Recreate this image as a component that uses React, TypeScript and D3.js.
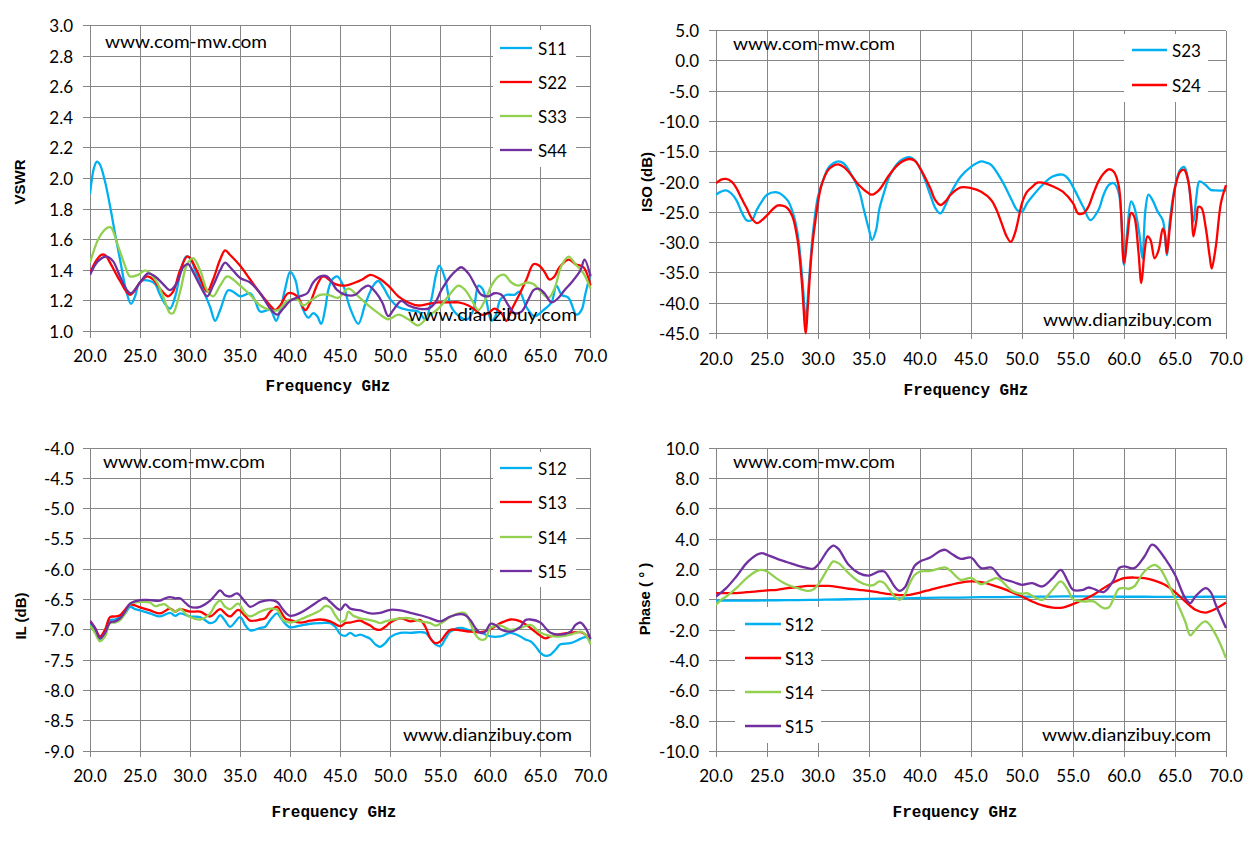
import * as d3 from "d3";

type Pt = [number, number];

// ---- axis ticks ----
const FREQ_TICKS = [20, 25, 30, 35, 40, 45, 50, 55, 60, 65, 70];
const VSWR_TICKS = [1.0, 1.2, 1.4, 1.6, 1.8, 2.0, 2.2, 2.4, 2.6, 2.8, 3.0];
const ISO_TICKS = [5, 0, -5, -10, -15, -20, -25, -30, -35, -40, -45];
const IL_TICKS = [-4.0, -4.5, -5.0, -5.5, -6.0, -6.5, -7.0, -7.5, -8.0, -8.5, -9.0];
const PHASE_TICKS = [10, 8, 6, 4, 2, 0, -2, -4, -6, -8, -10];

const CYAN = "#00B0F0";
const RED = "#FF0000";
const GREEN = "#92D050";
const PURPLE = "#7030A0";

// ---- VSWR (GHz, VSWR) ----
const S11: Pt[] = [
  [20, 1.9], [20.4, 2.07], [20.7, 2.11], [21, 2.09], [21.5, 1.98], [22, 1.82], [22.5, 1.64], [23, 1.47],
  [23.6, 1.27], [24.1, 1.18], [24.5, 1.23], [24.8, 1.3], [25.1, 1.33], [26, 1.33], [26.5, 1.31], [27, 1.24],
  [27.5, 1.18], [28, 1.15], [28.6, 1.25], [29, 1.38], [29.6, 1.49], [30, 1.48], [30.5, 1.4], [31, 1.32],
  [31.5, 1.24], [32, 1.16], [32.5, 1.07], [33, 1.14], [33.8, 1.27], [34.3, 1.26], [35, 1.23], [35.5, 1.24],
  [36, 1.25], [36.5, 1.2], [37, 1.13], [38, 1.14], [38.6, 1.07], [39, 1.14], [39.5, 1.28], [40, 1.39],
  [40.5, 1.34], [41, 1.19], [41.8, 1.09], [42.3, 1.12], [42.7, 1.1], [43.1, 1.05], [43.5, 1.15], [43.8, 1.27],
  [44.2, 1.34], [44.7, 1.36], [45.3, 1.3], [46, 1.15], [46.8, 1.05], [47.5, 1.18], [48.3, 1.3], [48.8, 1.33],
  [49.3, 1.29], [50, 1.21], [50.8, 1.16], [51.8, 1.14], [52.8, 1.13], [53.5, 1.08], [54.1, 1.21], [54.6, 1.38],
  [54.9, 1.43], [55.5, 1.34], [56.1, 1.16], [57.1, 1.09], [57.7, 1.08], [58.3, 1.14], [58.8, 1.3], [59.2, 1.28],
  [59.6, 1.2], [60.1, 1.07], [60.5, 1.1], [61, 1.21], [61.6, 1.24], [62.4, 1.24], [62.9, 1.26], [63.6, 1.16],
  [64.4, 1.1], [65.3, 1.14], [66.1, 1.19], [66.6, 1.3], [67.1, 1.24], [67.8, 1.22], [68.6, 1.11], [69.1, 1.14],
  [69.5, 1.25], [70, 1.38],
];
const S22: Pt[] = [
  [20, 1.38], [20.5, 1.45], [21.1, 1.5], [21.5, 1.5], [22, 1.45], [23, 1.33], [24, 1.24], [25, 1.32],
  [25.7, 1.36], [26.3, 1.34], [27, 1.28], [27.8, 1.23], [28.3, 1.26], [29, 1.4], [29.7, 1.49], [30, 1.48],
  [30.8, 1.38], [31.7, 1.26], [32.3, 1.34], [33, 1.47], [33.5, 1.53], [34, 1.5], [35, 1.43], [36, 1.34],
  [37, 1.25], [38, 1.17], [38.5, 1.14], [39, 1.17], [39.8, 1.25], [40.7, 1.23], [41.5, 1.14], [42, 1.19],
  [42.8, 1.32], [43.3, 1.36], [44.5, 1.31], [45.5, 1.3], [46.5, 1.32], [47.2, 1.34], [48, 1.37], [48.8, 1.35],
  [49.8, 1.3], [50.8, 1.23], [51.8, 1.19], [52.8, 1.17], [53.8, 1.18], [54.8, 1.19], [55.8, 1.19], [56.8, 1.19],
  [57.8, 1.17], [58.5, 1.14], [59.1, 1.11], [59.8, 1.12], [60.4, 1.15], [61.1, 1.12], [61.6, 1.07], [62.1, 1.14],
  [62.8, 1.23], [63.6, 1.34], [64.3, 1.44], [64.9, 1.43], [65.4, 1.39], [65.9, 1.34], [66.4, 1.36], [66.9, 1.42],
  [67.8, 1.47], [68.5, 1.44], [69.3, 1.42], [70, 1.3],
];
const S33: Pt[] = [
  [20, 1.45], [20.8, 1.6], [21.4, 1.66], [21.8, 1.68], [22.1, 1.68], [22.8, 1.56], [23.5, 1.43], [24, 1.36],
  [24.8, 1.37], [25.5, 1.4], [26, 1.38], [26.7, 1.32], [27.3, 1.23], [28, 1.12], [28.3, 1.12], [29, 1.26],
  [29.7, 1.44], [30.3, 1.48], [31, 1.4], [31.7, 1.27], [32.3, 1.23], [33, 1.3], [33.7, 1.36], [34.3, 1.34],
  [35, 1.3], [36, 1.24], [37, 1.17], [38, 1.14], [38.8, 1.14], [39.7, 1.2], [40.7, 1.21], [41.3, 1.17],
  [42, 1.2], [43, 1.24], [43.8, 1.24], [44.8, 1.22], [45.8, 1.28], [46.8, 1.23], [47.8, 1.17], [48.8, 1.12],
  [49.8, 1.08], [50.8, 1.11], [51.8, 1.08], [52.8, 1.04], [53.8, 1.1], [54.8, 1.15], [55.8, 1.23], [56.8, 1.3],
  [57.5, 1.27], [58.1, 1.21], [58.8, 1.14], [59.5, 1.21], [60.1, 1.3], [60.8, 1.36], [61.4, 1.37], [62.1, 1.32],
  [62.8, 1.3], [63.6, 1.32], [64.3, 1.31], [64.9, 1.27], [65.8, 1.22], [66.4, 1.28], [67.1, 1.43], [67.8, 1.49],
  [68.5, 1.44], [69.3, 1.38], [70, 1.28],
];
const S44: Pt[] = [
  [20, 1.37], [20.8, 1.46], [21.7, 1.49], [22.3, 1.46], [23, 1.36], [23.7, 1.27], [24.1, 1.25], [25, 1.32],
  [25.8, 1.38], [26.5, 1.36], [27.3, 1.31], [28, 1.27], [28.7, 1.32], [29.3, 1.42], [29.8, 1.44], [30.3, 1.39],
  [31, 1.3], [31.7, 1.23], [32.3, 1.3], [33, 1.4], [33.5, 1.45], [34, 1.42], [35, 1.35], [36, 1.32],
  [37, 1.25], [38, 1.15], [38.7, 1.11], [39.3, 1.15], [40, 1.2], [41, 1.23], [41.7, 1.25], [42.3, 1.32],
  [43, 1.36], [43.7, 1.36], [44.7, 1.27], [45.5, 1.24], [46.5, 1.24], [47.2, 1.28], [47.8, 1.3], [48.5, 1.26],
  [49.2, 1.19], [49.8, 1.1], [50.3, 1.14], [51.1, 1.2], [51.8, 1.17], [52.8, 1.15], [53.8, 1.15], [54.5, 1.19],
  [55.1, 1.27], [56, 1.36], [56.6, 1.4], [57.1, 1.42], [57.8, 1.38], [58.5, 1.3], [59.1, 1.24], [59.8, 1.23],
  [60.4, 1.25], [61.1, 1.24], [61.8, 1.17], [62.4, 1.12], [63.1, 1.13], [63.8, 1.21], [64.3, 1.27], [64.8, 1.28],
  [65.4, 1.25], [66.1, 1.19], [66.8, 1.22], [67.4, 1.27], [68.1, 1.32], [69, 1.4], [69.4, 1.47], [70, 1.36],
];

// ---- Isolation (GHz, dB) ----
const S23: Pt[] = [
  [20, -22.1], [20.5, -21.6], [21, -21.4], [21.5, -21.9], [22, -23.0], [22.5, -24.9], [23, -26.3], [23.5, -26.3],
  [24, -24.6], [24.5, -23.2], [25, -22.1], [26, -21.7], [27, -23.0], [27.5, -24.9], [28, -28.5], [28.5, -36.7],
  [28.8, -42.8], [29.1, -36.7], [29.5, -28.5], [30, -22.4], [30.5, -19.7], [31, -17.7], [31.5, -16.9], [32, -16.6],
  [32.5, -16.9], [33, -18.0], [34, -21.3], [34.5, -24.6], [35, -27.9], [35.3, -29.6], [35.7, -27.9], [36, -24.6],
  [36.5, -21.6], [37, -19.1], [38, -16.6], [39, -15.9], [39.5, -16.4], [40, -17.7], [40.5, -19.7], [41, -22.1],
  [41.5, -24.3], [42, -25.2], [42.5, -23.8], [43, -21.9], [44, -19.1], [45, -17.5], [46, -16.6], [46.5, -16.8],
  [47, -17.2], [48, -19.7], [49, -23.0], [49.5, -24.6], [50, -24.9], [50.5, -23.5], [51, -22.4], [52, -20.5],
  [53, -19.1], [54, -18.8], [54.5, -19.4], [55, -20.8], [56, -24.1], [56.7, -26.3], [57.5, -24.6], [58, -22.1],
  [58.5, -20.5], [59, -20.2], [59.5, -21.9], [60, -33.7], [60.3, -28.5], [60.7, -23.2], [61, -24.1], [61.5, -28.5],
  [61.8, -32.6], [62.1, -24.6], [62.4, -22.1], [62.8, -23.0], [63.3, -24.9], [63.8, -26.3], [64.0, -28.5], [64.2, -32.1],
  [64.5, -26.3], [65, -20.8], [65.5, -18.0], [65.9, -17.5], [66.3, -19.7], [66.8, -26.6], [67.1, -22.4], [67.4, -19.9],
  [68, -20.5], [68.5, -21.3], [69, -21.4], [70, -21.4],
];
const S24: Pt[] = [
  [20, -20.2], [20.5, -19.6], [21, -19.5], [21.5, -19.9], [22, -21.0], [22.5, -22.7], [23, -24.3], [23.5, -26.0],
  [24, -26.8], [24.5, -26.3], [25, -25.5], [25.5, -24.6], [26, -23.9], [26.5, -23.9], [27, -24.3], [27.5, -25.7],
  [28, -29.6], [28.4, -36.2], [28.8, -45.0], [29.0, -40.6], [29.4, -31.2], [29.8, -25.7], [30.3, -20.8], [31, -18.0],
  [31.5, -17.3], [32, -17.1], [32.5, -17.5], [33, -18.3], [34, -20.5], [35, -21.9], [35.3, -22.1], [36, -21.3],
  [37, -18.8], [38, -16.9], [39, -16.2], [39.5, -16.5], [40, -17.7], [41, -21.0], [41.5, -23.0], [42, -23.8],
  [42.5, -23.2], [43, -22.1], [44, -20.9], [45, -21.0], [46, -21.6], [47, -23.0], [47.5, -24.6], [48, -26.8],
  [48.5, -29.0], [48.9, -29.9], [49.3, -28.5], [49.7, -25.7], [50, -23.5], [50.5, -21.6], [51, -20.8], [51.5, -20.1],
  [52, -20.1], [53, -20.7], [54, -21.6], [55, -23.5], [55.5, -25.2], [56, -25.2], [56.5, -24.1], [57, -21.9],
  [57.5, -19.9], [58, -18.6], [58.5, -17.9], [59, -18.3], [59.5, -20.8], [60, -33.4], [60.3, -29.6], [60.7, -25.1],
  [61, -25.7], [61.4, -31.2], [61.7, -36.7], [62.0, -31.8], [62.3, -29.0], [62.6, -29.6], [63.0, -32.6], [63.4, -31.2],
  [63.8, -27.7], [64.0, -28.5], [64.2, -31.8], [64.5, -27.4], [65, -21.0], [65.5, -18.3], [65.9, -18.0], [66.3, -19.9],
  [66.6, -24.1], [66.8, -29.0], [67.1, -26.3], [67.3, -24.1], [67.6, -24.3], [68, -27.4], [68.4, -32.3], [68.6, -34.3],
  [69, -30.7], [69.5, -23.5], [70, -20.5],
];

// ---- Insertion loss (GHz, dB) ----
const S12: Pt[] = [
  [20, -6.89], [20.5, -7.0], [21, -7.15], [21.5, -7.08], [22, -6.84], [22.5, -6.83], [23, -6.79], [23.5, -6.73],
  [24, -6.62], [24.5, -6.66], [25, -6.68], [26, -6.73], [27, -6.78], [28, -6.72], [28.5, -6.77], [29, -6.73],
  [30, -6.78], [31, -6.79], [32, -6.89], [32.5, -6.86], [33, -6.76], [33.5, -6.85], [34, -6.95], [35, -6.79],
  [35.5, -6.92], [36, -7.01], [37, -6.97], [37.5, -6.95], [38, -6.84], [38.7, -6.73], [39, -6.79], [39.5, -6.9],
  [40, -6.96], [41, -6.93], [42, -6.9], [43, -6.89], [44, -6.89], [44.5, -6.95], [45, -7.07], [45.5, -7.1],
  [46, -7.05], [46.5, -7.1], [47, -7.08], [47.5, -7.11], [48, -7.15], [48.5, -7.24], [49, -7.28], [49.5, -7.22],
  [50, -7.12], [51, -7.05], [52, -7.05], [53, -7.04], [53.5, -7.05], [54, -7.14], [54.5, -7.24], [55, -7.27],
  [55.5, -7.15], [56, -7.03], [57, -6.97], [58, -7.01], [59, -7.04], [60, -7.11], [61, -7.11], [62, -7.05],
  [63, -7.11], [63.5, -7.16], [64, -7.19], [64.5, -7.27], [65, -7.38], [65.5, -7.43], [66, -7.41], [66.5, -7.33],
  [67, -7.24], [68, -7.22], [69, -7.15], [69.5, -7.12], [70, -7.16],
];
const S13: Pt[] = [
  [20, -6.86], [20.5, -6.97], [21, -7.11], [21.5, -7.0], [22, -6.79], [22.5, -6.78], [23, -6.76], [23.5, -6.67],
  [24, -6.58], [25, -6.63], [26, -6.68], [27, -6.73], [28, -6.65], [28.5, -6.7], [29, -6.66], [30, -6.7],
  [31, -6.7], [32, -6.78], [33, -6.66], [33.5, -6.73], [34, -6.78], [34.8, -6.67], [35.5, -6.77], [36, -6.85],
  [37, -6.83], [37.5, -6.81], [38, -6.7], [38.7, -6.62], [39, -6.68], [39.5, -6.81], [40, -6.84], [41, -6.88],
  [42, -6.85], [43, -6.83], [44, -6.86], [45, -6.94], [45.5, -6.89], [46, -6.88], [47, -6.85], [47.5, -6.89],
  [48, -6.93], [48.5, -6.99], [49, -7.0], [49.5, -6.95], [50, -6.88], [51, -6.81], [52, -6.86], [53, -6.84],
  [53.5, -6.95], [54, -7.14], [54.5, -7.22], [55, -7.19], [55.5, -7.08], [56, -7.0], [57, -7.01], [58, -7.03],
  [59, -7.04], [60, -6.99], [61, -6.89], [62, -6.83], [63, -6.86], [64, -6.97], [65, -7.1], [65.5, -7.14],
  [66, -7.11], [67, -7.07], [68, -7.05], [69, -7.04], [69.5, -7.08], [70, -7.14],
];
const S14: Pt[] = [
  [20, -6.93], [20.5, -7.05], [21, -7.19], [21.5, -7.11], [22, -6.89], [22.5, -6.88], [23, -6.84], [23.5, -6.73],
  [24, -6.57], [25, -6.54], [26, -6.55], [26.5, -6.61], [27, -6.59], [27.5, -6.58], [28, -6.65], [28.5, -6.7],
  [29, -6.65], [29.5, -6.73], [30, -6.79], [31, -6.83], [32, -6.73], [32.5, -6.59], [33, -6.52], [33.5, -6.62],
  [34, -6.66], [34.8, -6.57], [35.5, -6.73], [36, -6.78], [37, -6.7], [38, -6.65], [38.7, -6.67], [39.3, -6.84],
  [40, -6.88], [41, -6.83], [42, -6.76], [43, -6.68], [43.5, -6.61], [44, -6.63], [44.5, -6.76], [45, -6.86],
  [45.5, -6.84], [45.8, -6.7], [46.3, -6.77], [47, -6.81], [48, -6.84], [48.5, -6.86], [49, -6.89], [49.5, -6.86],
  [50, -6.84], [51, -6.81], [52, -6.81], [53, -6.86], [54, -6.89], [54.5, -6.93], [55, -6.9], [56, -6.79],
  [57, -6.72], [57.5, -6.73], [58, -6.89], [58.5, -7.08], [59, -7.16], [59.5, -7.15], [60, -6.97], [61, -6.93],
  [62, -7.0], [63, -6.97], [64, -6.92], [65, -7.05], [66, -7.1], [67, -7.11], [68, -7.08], [69, -7.03],
  [69.5, -7.08], [70, -7.24],
];
const S15: Pt[] = [
  [20, -6.85], [20.5, -6.97], [21, -7.14], [21.5, -7.05], [22, -6.88], [22.5, -6.86], [23, -6.81], [23.5, -6.7],
  [24, -6.57], [25, -6.51], [26, -6.51], [27, -6.52], [27.5, -6.48], [28, -6.46], [28.5, -6.48], [29, -6.48],
  [29.5, -6.55], [30, -6.62], [31, -6.62], [32, -6.52], [32.5, -6.43], [33, -6.35], [33.5, -6.43], [34, -6.45],
  [34.7, -6.4], [35.5, -6.54], [36, -6.62], [37, -6.54], [38, -6.51], [38.7, -6.54], [39.3, -6.67], [40, -6.77],
  [41, -6.72], [42, -6.62], [43, -6.51], [43.5, -6.47], [44, -6.54], [45, -6.67], [45.5, -6.58], [46, -6.65],
  [47, -6.68], [48, -6.73], [49, -6.72], [50, -6.67], [51, -6.68], [52, -6.72], [53, -6.76], [54, -6.81],
  [55, -6.86], [56, -6.78], [57, -6.74], [57.5, -6.76], [58, -6.84], [58.5, -6.97], [59, -7.05], [59.5, -7.03],
  [60, -6.9], [60.5, -6.92], [61, -6.99], [62, -7.03], [63, -6.95], [63.5, -6.84], [64, -6.83], [65, -6.88],
  [65.5, -6.97], [66, -7.05], [67, -7.08], [68, -7.03], [68.5, -6.92], [69, -6.88], [69.5, -6.97], [70, -7.15],
];

// ---- Phase (GHz, degrees) ----
const P12: Pt[] = [
  [20, -0.05], [22, -0.06], [24, -0.05], [26, -0.03], [28, -0.02], [30, 0.0], [32, 0.02], [34, 0.05],
  [36, 0.07], [38, 0.1], [40, 0.12], [42, 0.14], [44, 0.15], [46, 0.17], [48, 0.18], [50, 0.2],
  [52, 0.21], [54, 0.22], [56, 0.22], [58, 0.21], [60, 0.2], [62, 0.2], [64, 0.19], [66, 0.19],
  [68, 0.2], [70, 0.2],
];
const P13: Pt[] = [
  [20, 0.44], [21, 0.44], [22, 0.44], [23, 0.5], [24, 0.55], [25, 0.62], [26, 0.66], [27, 0.77],
  [28, 0.84], [29, 0.92], [30, 0.92], [31, 0.92], [32, 0.84], [33, 0.73], [34, 0.66], [35, 0.59],
  [36, 0.48], [37, 0.37], [38, 0.31], [39, 0.33], [40, 0.48], [41, 0.66], [42, 0.84], [43, 0.99],
  [44, 1.14], [45, 1.21], [46, 1.16], [47, 0.99], [48, 0.77], [49, 0.51], [50, 0.22], [51, -0.11],
  [52, -0.37], [53, -0.51], [54, -0.51], [55, -0.29], [56, 0.0], [57, 0.33], [58, 0.77], [59, 1.16],
  [60, 1.43], [61, 1.47], [62, 1.43], [63, 1.27], [64, 0.99], [65, 0.51], [66, -0.11], [67, -0.66],
  [68, -0.84], [69, -0.59], [70, -0.18],
];
const P14: Pt[] = [
  [20, -0.33], [20.5, 0.0], [21, 0.22], [22, 0.77], [23, 1.43], [24, 1.91], [24.5, 1.98], [25, 1.87],
  [26, 1.38], [27, 0.99], [28, 0.77], [29, 0.59], [29.5, 0.66], [30, 0.99], [31, 2.09], [31.5, 2.53],
  [32, 2.42], [33, 1.76], [34, 1.21], [35, 0.95], [35.5, 0.99], [36, 1.21], [36.5, 1.1], [37, 0.66],
  [37.5, 0.22], [38, 0.0], [38.5, 0.33], [39, 1.1], [39.5, 1.65], [40, 1.87], [41, 1.91], [42, 2.09],
  [42.5, 2.13], [43, 1.91], [44, 1.32], [45, 1.45], [46, 1.03], [47, 1.32], [47.5, 1.43], [48, 1.25],
  [49, 0.59], [50, 0.4], [50.5, 0.44], [51, 0.26], [52, 0.0], [53, 0.66], [53.8, 1.21], [54.5, 0.66],
  [55, 0.04], [56, -0.11], [57, -0.11], [58, -0.55], [58.5, -0.51], [59, 0.11], [59.5, 0.73], [60, 0.77],
  [60.5, 0.73], [61, 0.88], [62, 1.87], [63, 2.31], [63.5, 2.09], [64, 1.54], [65, 0.11], [66, -1.43],
  [66.5, -2.35], [67, -1.98], [68, -1.43], [69, -2.31], [70, -3.85],
];
const P15: Pt[] = [
  [20, 0.22], [21, 0.77], [22, 1.54], [23, 2.42], [24, 2.97], [24.5, 3.08], [25, 2.97], [26, 2.7],
  [27, 2.48], [28, 2.26], [29, 2.09], [29.5, 2.04], [30, 2.31], [31, 3.3], [31.5, 3.58], [32, 3.36],
  [33, 2.31], [34, 1.76], [35, 1.6], [36, 1.87], [36.5, 1.87], [37, 1.43], [37.5, 0.88], [38, 0.59],
  [38.5, 0.81], [39, 1.54], [39.5, 2.26], [40, 2.53], [41, 2.79], [42, 3.23], [42.5, 3.3], [43, 3.08],
  [44, 2.7], [45, 2.79], [46, 2.09], [47, 2.13], [48, 1.43], [49, 1.21], [50, 0.99], [51, 1.1],
  [52, 0.88], [53, 1.43], [53.8, 1.98], [54.5, 1.21], [55, 0.66], [56, 0.66], [56.5, 0.81], [57, 0.73],
  [58, 0.51], [59, 1.32], [59.5, 2.09], [60, 2.2], [61, 2.09], [62, 2.86], [62.7, 3.63], [63, 3.58],
  [64, 2.75], [65, 1.65], [66, 0.11], [66.5, -0.22], [67, 0.22], [68, 0.77], [68.5, 0.51], [69, -0.33],
  [70, -1.87],
];

type Series = { name: string; color: string; data: Pt[] };

type PanelSpec = {
  id: string;
  left: number;
  right: number;
  top: number;
  bottom: number;
  yDomain: [number, number];
  yTicks: number[];
  labelRight: number;
  xLabelY: number;
  yTitle: string;
  yTitleX: number;
  yTitleY: number;
  xTitleX: number;
  xTitleY: number;
  series: Series[];
  legend: { x: number; y: number; w: number; h: number; rows: number[]; lineX1: number; lineX2: number; textX: number };
  mark1: [number, number];
  mark2: [number, number];
};

const GRID = "#868686";
const SANS = "Lato, 'Liberation Sans', sans-serif";

function Panel({ p }: { p: PanelSpec }) {
  const x = d3.scaleLinear().domain([20, 70]).range([p.left, p.right]);
  const y = d3.scaleLinear().domain(p.yDomain).range([p.bottom, p.top]);
  const line = d3
    .line<Pt>()
    .x((d) => x(d[0]))
    .y((d) => y(d[1]))
    .curve(d3.curveCatmullRom.alpha(0.5));

  return (
    <g>
      <defs>
        <clipPath id={`clip-${p.id}`}>
          <rect x={p.left} y={p.top - 2} width={p.right - p.left + 2} height={p.bottom - p.top + 4} />
        </clipPath>
      </defs>
      {/* grid */}
      <g stroke={GRID} strokeWidth={1} shapeRendering="crispEdges">
        {p.yTicks.map((t) => (
          <line key={`h${t}`} x1={p.left - 7} x2={p.right} y1={y(t)} y2={y(t)} />
        ))}
        {FREQ_TICKS.map((t) => (
          <line key={`v${t}`} x1={x(t)} x2={x(t)} y1={p.top} y2={p.bottom + 6} />
        ))}
      </g>
      {/* tick labels */}
      <g fontFamily={SANS} fontSize={17} fill="#000">
        {p.yTicks.map((t) => (
          <text key={`yl${t}`} x={p.labelRight} y={y(t)} textAnchor="end" dominantBaseline="central">
            {t.toFixed(1)}
          </text>
        ))}
        {FREQ_TICKS.map((t) => (
          <text key={`xl${t}`} x={x(t)} y={p.xLabelY} textAnchor="middle" dominantBaseline="central">
            {t.toFixed(1)}
          </text>
        ))}
      </g>
      <text
        x={p.xTitleX}
        y={p.xTitleY}
        textAnchor="middle"
        fontFamily="'Liberation Mono', monospace"
        fontWeight="bold"
        fontSize={16}
      >
        Frequency GHz
      </text>
      <text
        transform={`translate(${p.yTitleX},${p.yTitleY}) rotate(-90)`}
        textAnchor="middle"
        dominantBaseline="central"
        fontFamily="'Liberation Sans', Arial, sans-serif"
        fontWeight="bold"
        fontSize={15}
      >
        {p.yTitle}
      </text>
      {/* series */}
      <g clipPath={`url(#clip-${p.id})`} fill="none" strokeWidth={2.3} strokeLinejoin="round">
        {p.series.map((s) => (
          <path key={s.name} d={line(s.data) ?? ""} stroke={s.color} />
        ))}
      </g>
      {/* legend */}
      <rect x={p.legend.x} y={p.legend.y} width={p.legend.w} height={p.legend.h} fill="#fff" />
      {p.series.map((s, i) => (
        <g key={`lg${s.name}`}>
          <line
            x1={p.legend.lineX1}
            x2={p.legend.lineX2}
            y1={p.legend.rows[i]}
            y2={p.legend.rows[i]}
            stroke={s.color}
            strokeWidth={2.3}
          />
          <text x={p.legend.textX} y={p.legend.rows[i]} dominantBaseline="central" fontFamily={SANS} fontSize={17}>
            {s.name}
          </text>
        </g>
      ))}
      {/* watermarks */}
      <text x={p.mark1[0]} y={p.mark1[1]} fontFamily={SANS} fontSize={18} textLength={162} lengthAdjust="spacingAndGlyphs">
        www.com-mw.com
      </text>
      <text x={p.mark2[0]} y={p.mark2[1]} fontFamily={SANS} fontSize={18} textLength={169} lengthAdjust="spacingAndGlyphs">
        www.dianzibuy.com
      </text>
    </g>
  );
}

const PANELS: PanelSpec[] = [
  {
    id: "vswr",
    left: 90,
    right: 590.5,
    top: 25.5,
    bottom: 331.5,
    yDomain: [1, 3],
    yTicks: VSWR_TICKS,
    labelRight: 73,
    xLabelY: 355,
    yTitle: "VSWR",
    yTitleX: 19,
    yTitleY: 182,
    xTitleX: 328,
    xTitleY: 391,
    series: [
      { name: "S11", color: CYAN, data: S11 },
      { name: "S22", color: RED, data: S22 },
      { name: "S33", color: GREEN, data: S33 },
      { name: "S44", color: PURPLE, data: S44 },
    ],
    legend: { x: 493, y: 30, w: 83, h: 137, rows: [48, 82, 116, 150], lineX1: 500, lineX2: 532, textX: 538 },
    mark1: [105, 48],
    mark2: [408, 321],
  },
  {
    id: "iso",
    left: 716,
    right: 1226,
    top: 30.7,
    bottom: 333.3,
    yDomain: [-45, 5],
    yTicks: ISO_TICKS,
    labelRight: 699,
    xLabelY: 358,
    yTitle: "ISO (dB)",
    yTitleX: 646,
    yTitleY: 182,
    xTitleX: 966,
    xTitleY: 395,
    series: [
      { name: "S23", color: CYAN, data: S23 },
      { name: "S24", color: RED, data: S24 },
    ],
    legend: { x: 1124, y: 34, w: 84, h: 68, rows: [50, 85], lineX1: 1132, lineX2: 1167, textX: 1172 },
    mark1: [733, 50],
    mark2: [1043, 326],
  },
  {
    id: "il",
    left: 90,
    right: 590.5,
    top: 448,
    bottom: 751,
    yDomain: [-9, -4],
    yTicks: IL_TICKS,
    labelRight: 74,
    xLabelY: 775,
    yTitle: "IL (dB)",
    yTitleX: 20,
    yTitleY: 616,
    xTitleX: 334,
    xTitleY: 817,
    series: [
      { name: "S12", color: CYAN, data: S12 },
      { name: "S13", color: RED, data: S13 },
      { name: "S14", color: GREEN, data: S14 },
      { name: "S15", color: PURPLE, data: S15 },
    ],
    legend: { x: 493, y: 452, w: 83, h: 135, rows: [468, 502, 537, 571], lineX1: 500, lineX2: 532, textX: 538 },
    mark1: [103, 468],
    mark2: [403, 741],
  },
  {
    id: "phase",
    left: 716,
    right: 1226,
    top: 448.3,
    bottom: 751.3,
    yDomain: [-10, 10],
    yTicks: PHASE_TICKS,
    labelRight: 699,
    xLabelY: 775,
    yTitle: "Phase ( ° )",
    yTitleX: 644,
    yTitleY: 599,
    xTitleX: 955,
    xTitleY: 817,
    series: [
      { name: "S12", color: CYAN, data: P12 },
      { name: "S13", color: RED, data: P13 },
      { name: "S14", color: GREEN, data: P14 },
      { name: "S15", color: PURPLE, data: P15 },
    ],
    legend: { x: 735, y: 607, w: 86, h: 136, rows: [624, 658, 692, 726], lineX1: 745, lineX2: 781, textX: 785 },
    mark1: [733, 468],
    mark2: [1042, 741],
  },
];

export default function App() {
  return (
    <svg
      width={1257}
      height={841}
      style={{ position: "absolute", left: 0, top: 0, background: "#fff" }}
    >
      <rect width={1257} height={841} fill="#fff" />
      {PANELS.map((p) => (
        <Panel key={p.id} p={p} />
      ))}
    </svg>
  );
}
